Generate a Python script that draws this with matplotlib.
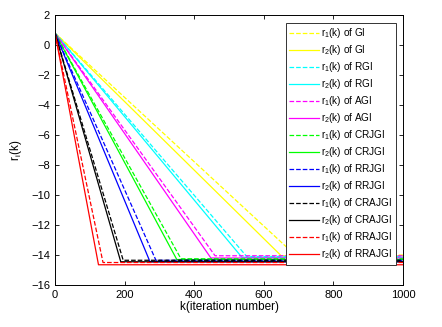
import numpy as np
import matplotlib.pyplot as plt

plt.rcParams['font.family'] = ['Liberation Sans', 'DejaVu Sans']
plt.rcParams['mathtext.default'] = 'regular'

methods = ['GI', 'RGI', 'AGI', 'CRJGI', 'RRJGI', 'CRAJGI', 'RRAJGI']
colors = ['#ffff00', '#00ffff', '#ff00ff', '#00ff00', '#0000ff', '#000000', '#ff0000']

# log10 residual: start value, iteration where it levels off, floor value
r_start = [0.8, 0.8, 0.8, 0.8, 0.8, 0.8, 0.8]
r1_knee = [690, 551, 460, 362, 290, 196, 138]
r2_knee = [650, 537, 448, 350, 273, 189, 125]
r1_floor = [-14.0, -14.1, -14.05, -14.25, -14.35, -14.35, -14.5]
r2_floor = [-14.05, -14.15, -14.2, -14.3, -14.45, -14.45, -14.65]
k_max = 1000

fig = plt.figure(figsize=(4.42, 3.27), dpi=100)
ax = fig.add_axes([0.1244, 0.1284, 0.7874, 0.8256])

for i, name in enumerate(methods):
    ax.plot([0, r1_knee[i], k_max], [r_start[i], r1_floor[i], r1_floor[i]],
            '--', color=colors[i], lw=0.9, label='r$_1$(k) of ' + name)
    ax.plot([0, r2_knee[i], k_max], [r_start[i], r2_floor[i], r2_floor[i]],
            '-', color=colors[i], lw=0.9, label='r$_2$(k) of ' + name)

ax.set_xlim(0, 1000)
ax.set_ylim(-16, 2)
ax.set_xticks(np.arange(0, 1001, 200))
ax.set_yticks(np.arange(-16, 3, 2))
ax.tick_params(direction='in', top=True, right=True, labelsize=8, length=3, width=0.6)
for s in ax.spines.values():
    s.set_linewidth(0.7)
ax.set_xlabel('k(iteration number)', fontsize=8.5, labelpad=1)
ax.set_ylabel('r$_i$(k)', fontsize=8.5, labelpad=5)

leg = ax.legend(loc='upper right', fontsize=7.2, fancybox=False, framealpha=1,
                edgecolor='#333333', handlelength=3.0, handletextpad=0.2,
                labelspacing=0.3, borderaxespad=0.75, borderpad=0.35)
leg.get_frame().set_linewidth(0.7)

fig.savefig('out.png', dpi=100)
